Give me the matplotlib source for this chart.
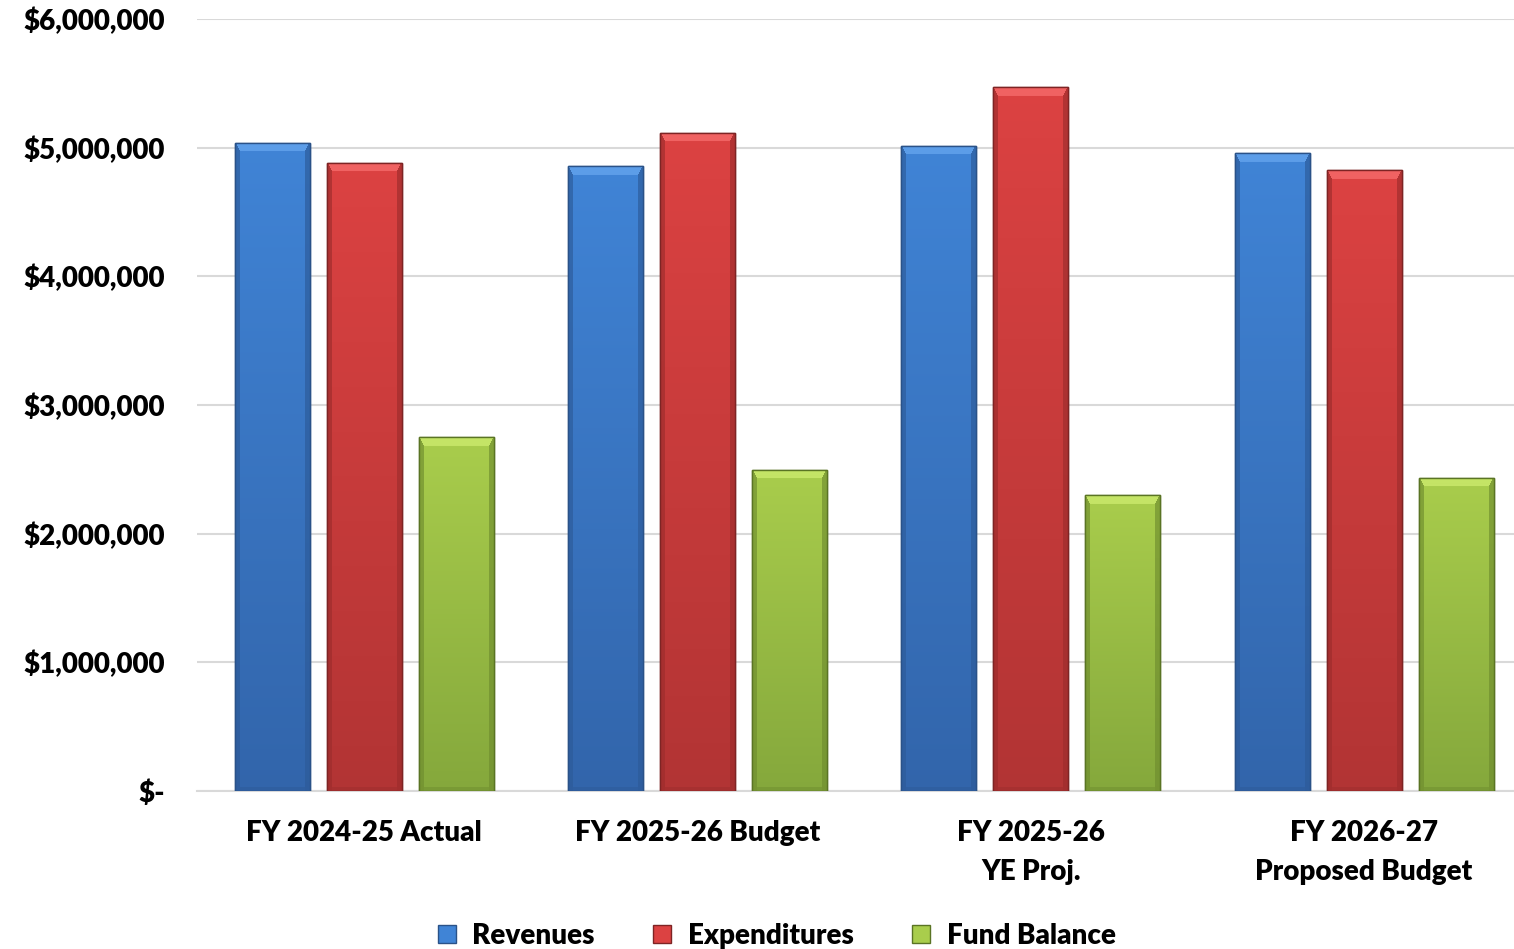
import matplotlib
matplotlib.use("Agg")
import matplotlib.pyplot as plt
import numpy as np
from matplotlib.patches import Patch
from matplotlib.colors import to_rgb
from matplotlib.ticker import FuncFormatter

categories = ["FY 2024-25 Actual", "FY 2025-26 Budget", "FY 2025-26\nYE Proj.", "FY 2026-27\nProposed Budget"]
revenues = [5040000, 4857000, 5013000, 4958000]
expenditures = [4881000, 5114000, 5471000, 4826000]
fund_balance = [2751000, 2495000, 2300000, 2433000]
series_names = ["Revenues", "Expenditures", "Fund Balance"]

plt.rcParams['font.family'] = ['Lato', 'DejaVu Sans']
plt.rcParams['font.weight'] = 'heavy'

W, H = 1514, 949
fig = plt.figure(figsize=(W / 100, H / 100), dpi=100)
ax = fig.add_axes([197 / W, 1 - 791 / H, (W - 197) / W, (791 - 19) / H])

# face top, face bottom, bevel top, bevel side, edge
styles = [
    ("#4084d6", "#3265ab", "#5d9de8", "#2c5a98", "#2a5288"),
    ("#dc4242", "#b23434", "#f06262", "#9c2c2c", "#7e2424"),
    ("#a9cd4c", "#85a83c", "#c4e466", "#6e8c2e", "#5a7424"),
]
x = np.arange(len(categories))
width = 0.225
offset = 0.276
px_per_x = (W - 197) / (3.45 + 0.501)
px_per_y = (791 - 19) / 6000000.0
data = [revenues, expenditures, fund_balance]
for i, (vals, st) in enumerate(zip(data, styles)):
    ftop, fbot, btop, bside, edge = [np.array(to_rgb(c)) for c in st]
    bars = ax.bar(x + (i - 1) * offset, vals, width, color=st[0], edgecolor=st[4],
                  linewidth=1.0, zorder=3)
    for b in bars:
        x0, y0 = b.get_x(), b.get_y()
        w, h = b.get_width(), b.get_height()
        nx = int(round(w * px_per_x))
        ny = int(round(h * px_per_y))
        yy, xx = np.mgrid[0:ny, 0:nx]  # yy=0 at top
        t = (yy / max(ny - 1, 1))[..., None]
        img = ftop * (1 - t) + fbot * t
        dtop = yy
        dleft = xx
        dright = nx - 1 - xx
        dbot = ny - 1 - yy
        bev = 9
        sbev = 5
        top_m = (dtop < bev) & (dtop <= dleft * bev / sbev) & (dtop <= dright * bev / sbev)
        side_m = ((dleft < sbev) | (dright < sbev)) & ~top_m
        bot_m = (dbot < 4) & ~top_m & ~side_m
        img[top_m] = btop
        img[side_m] = img[side_m] * 0.35 + bside * 0.65
        img[bot_m] = img[bot_m] * 0.5 + bside * 0.5
        im = ax.imshow(img, extent=[x0, x0 + w, y0, y0 + h], origin='upper',
                       aspect='auto', zorder=3.1, interpolation='bilinear')
        im.set_clip_path(b)
        ax.add_patch(plt.Rectangle((x0, y0), w, h, fill=False, edgecolor=st[4],
                                   linewidth=1.0, zorder=3.3))

ax.set_xlim(-0.501, 3.45)
ax.set_ylim(0, 6000000)
ax.set_yticks(np.arange(0, 6000001, 1000000))

def fmt(v, pos):
    if v == 0:
        return "$-"
    return "${:,.0f}".format(v)
ax.yaxis.set_major_formatter(FuncFormatter(fmt))
ax.set_xticks(x)
ax.set_xticklabels(categories, linespacing=1.6)
ax.tick_params(axis='both', length=0, labelsize=20)
ax.tick_params(axis='x', pad=21)
ax.tick_params(axis='y', pad=23)
ax.grid(axis='y', color='#d9d9d9', linewidth=1.5, zorder=0)
for s in ['top', 'right', 'left']:
    ax.spines[s].set_visible(False)
ax.spines['bottom'].set_color('#d9d9d9')
ax.spines['bottom'].set_linewidth(1.5)

handles = [Patch(facecolor=s[0], edgecolor=s[4], label=n) for n, s in zip(series_names, styles)]
fig.legend(handles=handles, loc='lower center', bbox_to_anchor=(0.513, -0.026), ncol=3,
           frameon=False, fontsize=20, handlelength=0.65, handleheight=0.65,
           columnspacing=2.1, handletextpad=0.6)

fig.savefig("out.png", dpi=100)
